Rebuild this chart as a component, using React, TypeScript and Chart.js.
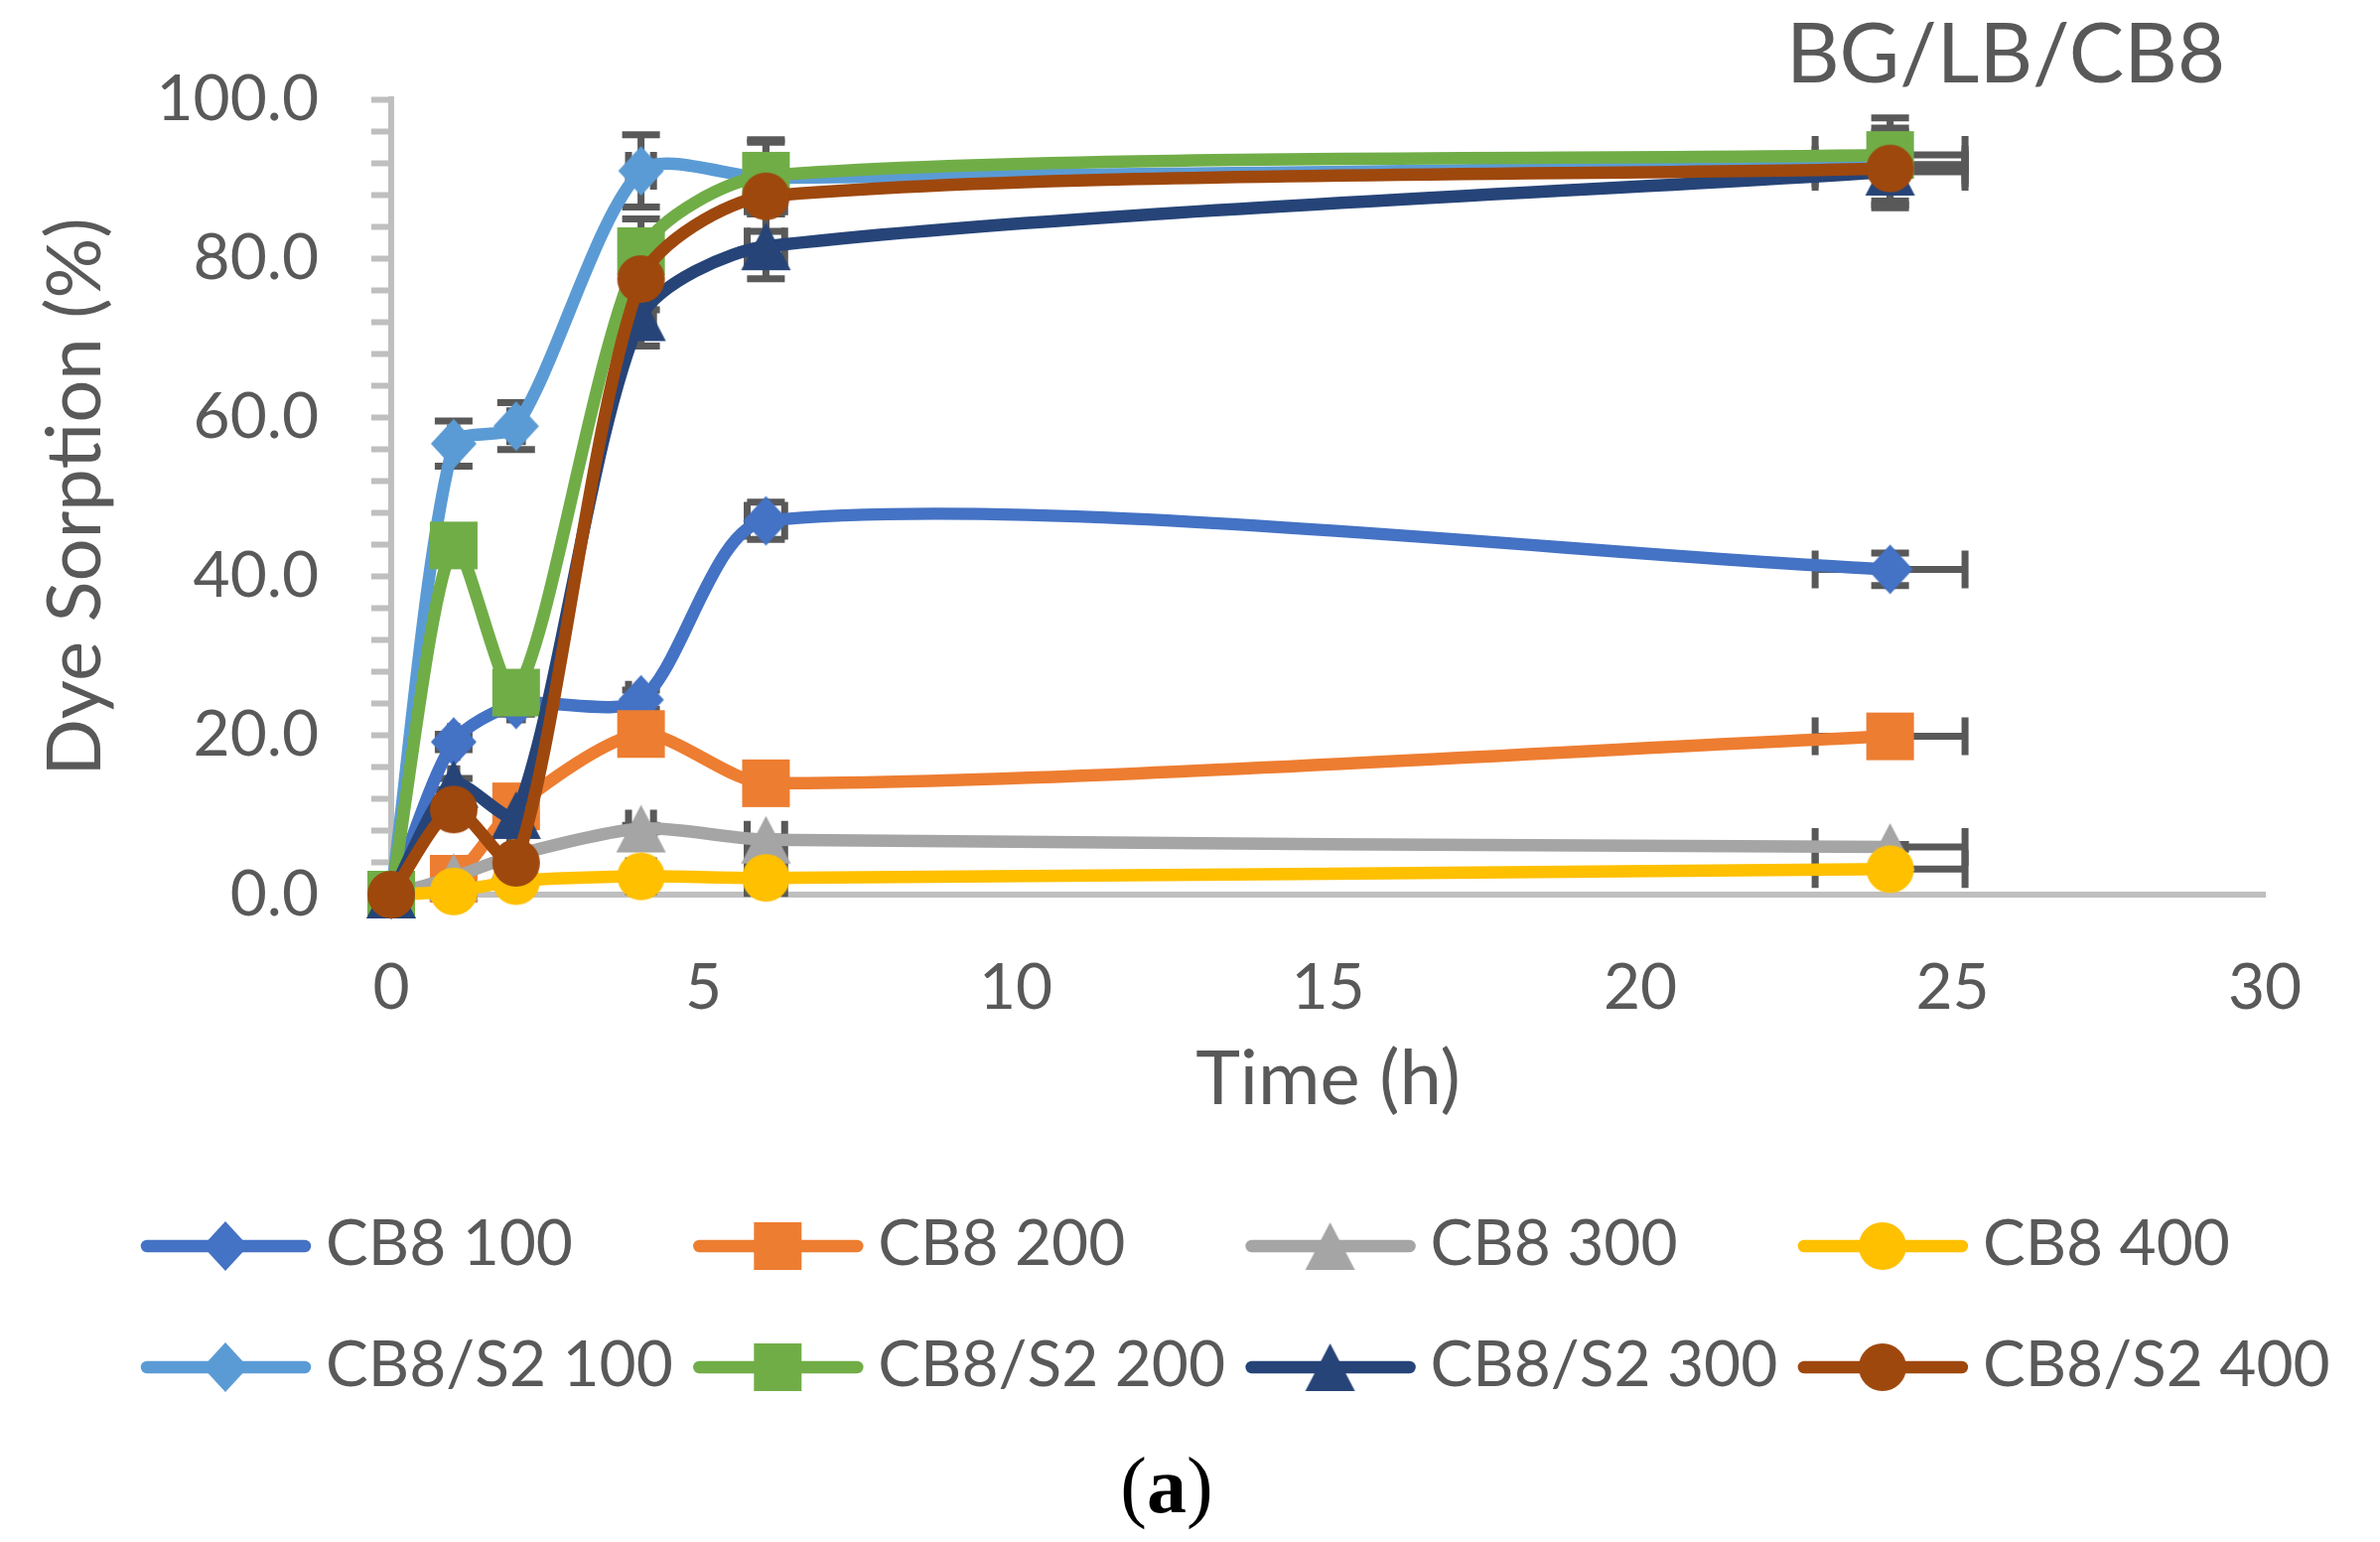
import { useEffect, useRef } from "react";
import { Chart, registerables } from "chart.js";

Chart.register(...registerables);

// sampling times (h)
const times = [0, 1, 2, 4, 6, 24];

const seriesNames = [
  "CB8 100",
  "CB8 200",
  "CB8 300",
  "CB8 400",
  "CB8/S2 100",
  "CB8/S2 200",
  "CB8/S2 300",
  "CB8/S2 400",
];

// dye sorption (%)
const cb8_100 = [0, 19.2, 23.9, 24.5, 47.0, 40.9];
const cb8_200 = [0, 2.0, 11.1, 20.2, 14.0, 19.9];
const cb8_300 = [0, 2.2, 5.0, 8.3, 6.9, 6.0];
const cb8_400 = [0, 0.4, 1.7, 2.3, 2.1, 3.2];
const cb8s2_100 = [0, 56.7, 58.9, 91.0, 90.1, 91.8];
const cb8s2_200 = [0, 43.9, 25.4, 80.9, 90.4, 93.0];
const cb8s2_300 = [0, 13.9, 10.0, 72.6, 81.5, 90.9];
const cb8s2_400 = [0, 10.7, 4.0, 77.4, 87.8, 91.3];

const seriesValues = [cb8_100, cb8_200, cb8_300, cb8_400, cb8s2_100, cb8s2_200, cb8s2_300, cb8s2_400];

const seriesColors = [
  "#4472C4",
  "#ED7D31",
  "#A5A5A5",
  "#FFC000",
  "#5B9BD5",
  "#70AD47",
  "#264478",
  "#9E480E",
];

const seriesMarkers = ["diamond", "square", "triangle", "circle", "diamond", "square", "triangle", "circle"];

// error bars are 5% of the value, both directions
const errFraction = 0.05;

const chartTitle = "BG/LB/CB8";
const xTitle = "Time (h)";
const yTitle = "Dye Sorption (%)";

const TEXT = "#595959";
const AXIS = "#BFBFBF";
const FONT = "Lato, 'Open Sans', sans-serif";

function makeMarker(shape: string, color: string) {
  const c = document.createElement("canvas");
  c.width = 52;
  c.height = 52;
  const g = c.getContext("2d")!;
  const m = 26;
  g.fillStyle = color;
  g.beginPath();
  if (shape === "circle") {
    g.arc(m, m, 24, 0, Math.PI * 2);
  } else if (shape === "square") {
    g.rect(m - 24, m - 24, 48, 48);
  } else if (shape === "diamond") {
    g.moveTo(m, m - 25);
    g.lineTo(m + 23, m);
    g.lineTo(m, m + 25);
    g.lineTo(m - 23, m);
    g.closePath();
  } else {
    g.moveTo(m, m - 24);
    g.lineTo(m + 25, m + 24);
    g.lineTo(m - 25, m + 24);
    g.closePath();
  }
  g.fill();
  return c;
}

const errorBarsPlugin = {
  id: "errorBars",
  beforeDatasetsDraw(chart: any) {
    const { ctx } = chart;
    const xs = chart.scales.x;
    const ys = chart.scales.y;
    const cap = 19;
    ctx.save();
    ctx.strokeStyle = TEXT;
    ctx.lineWidth = 7;
    chart.data.datasets.forEach((ds: any) => {
      ds.data.forEach((p: any) => {
        const px = xs.getPixelForValue(p.x);
        const py = ys.getPixelForValue(p.y);
        const ey = p.y * errFraction;
        const ex = p.x * errFraction;
        ctx.beginPath();
        if (ey > 0) {
          const y1 = ys.getPixelForValue(p.y + ey);
          const y2 = ys.getPixelForValue(p.y - ey);
          ctx.moveTo(px, y1);
          ctx.lineTo(px, y2);
          ctx.moveTo(px - cap, y1);
          ctx.lineTo(px + cap, y1);
          ctx.moveTo(px - cap, y2);
          ctx.lineTo(px + cap, y2);
        }
        if (ex > 0) {
          const x1 = xs.getPixelForValue(p.x - ex);
          const x2 = xs.getPixelForValue(p.x + ex);
          ctx.moveTo(x1, py);
          ctx.lineTo(x2, py);
          ctx.moveTo(x1, py - cap);
          ctx.lineTo(x1, py + cap);
          ctx.moveTo(x2, py - cap);
          ctx.lineTo(x2, py + cap);
        }
        ctx.stroke();
      });
    });
    ctx.restore();
  },
};

function makeDecorPlugin(markers: HTMLCanvasElement[]) {
  return {
    id: "decor",
    afterDraw(chart: any) {
      const { ctx } = chart;
      ctx.save();

      // title
      ctx.fillStyle = TEXT;
      ctx.font = `83px ${FONT}`;
      ctx.textAlign = "center";
      ctx.textBaseline = "alphabetic";
      ctx.fillText(chartTitle, 2020, 83);

      // legend: 2 rows x 4 columns
      ctx.font = `64px ${FONT}`;
      ctx.textAlign = "left";
      ctx.textBaseline = "middle";
      seriesNames.forEach((name, i) => {
        const col = i % 4;
        const row = Math.floor(i / 4);
        const x0 = 142 + col * 556.3;
        const y0 = 1255 + row * 122;
        ctx.strokeStyle = seriesColors[i];
        ctx.lineWidth = 12.5;
        ctx.lineCap = "round";
        ctx.beginPath();
        ctx.moveTo(x0 + 6, y0);
        ctx.lineTo(x0 + 165, y0);
        ctx.stroke();
        const mk = markers[i];
        ctx.drawImage(mk, x0 + 85 - mk.width / 2, y0 - mk.height / 2);
        ctx.fillStyle = TEXT;
        ctx.fillText(name, x0 + 186, y0 - 2);
      });

      // caption
      ctx.fillStyle = "#000000";
      ctx.textBaseline = "alphabetic";
      ctx.textAlign = "left";
      const normal = "normal 400 80px 'Liberation Serif', 'DejaVu Serif', serif";
      const bold = "normal 700 80px 'Liberation Serif', 'DejaVu Serif', serif";
      ctx.font = normal;
      const wOpen = ctx.measureText("(").width;
      const wClose = ctx.measureText(")").width;
      ctx.font = bold;
      const wA = ctx.measureText("a").width;
      let cx = 1175 - (wOpen + wA + wClose) / 2;
      ctx.font = normal;
      ctx.fillText("(", cx, 1523);
      cx += wOpen;
      ctx.font = bold;
      ctx.fillText("a", cx, 1523);
      cx += wA;
      ctx.font = normal;
      ctx.fillText(")", cx, 1523);

      ctx.restore();
    },
  };
}

export default function App() {
  const canvasRef = useRef<HTMLCanvasElement>(null);

  useEffect(() => {
    if (!canvasRef.current) return;
    const ctx = canvasRef.current.getContext("2d");
    if (!ctx) return;

    const markers = seriesMarkers.map((m, i) => makeMarker(m, seriesColors[i]));

    const datasets = seriesNames.map((name, i) => ({
      label: name,
      data: times.map((t, j) => ({ x: t, y: seriesValues[i][j] })),
      borderColor: seriesColors[i],
      backgroundColor: seriesColors[i],
      borderWidth: 12.5,
      borderCapStyle: "round" as const,
      borderJoinStyle: "round" as const,
      tension: 0.26,
      pointStyle: markers[i],
      pointRadius: 24,
      pointBorderWidth: 0,
      clip: false as const,
      order: seriesNames.length - 1 - i,
    }));

    const chart = new Chart(ctx, {
      type: "line",
      data: { datasets },
      plugins: [errorBarsPlugin, makeDecorPlugin(markers)],
      options: {
        animation: false,
        responsive: true,
        maintainAspectRatio: false,
        devicePixelRatio: 1,
        events: [],
        layout: { padding: { top: 100, right: 116, bottom: 402, left: 0 } },
        plugins: {
          legend: { display: false },
          tooltip: { enabled: false },
          title: { display: false },
        },
        scales: {
          x: {
            type: "linear",
            min: 0,
            max: 30,
            ticks: {
              stepSize: 5,
              color: TEXT,
              font: { family: FONT, size: 64 },
              padding: 56,
              maxRotation: 0,
              autoSkip: false,
            },
            grid: { display: true, drawOnChartArea: false, drawTicks: false, color: AXIS },
            border: { display: true, color: AXIS, width: 6 },
            title: {
              display: true,
              text: xTitle,
              color: TEXT,
              font: { family: FONT, size: 76 },
              padding: { top: 0, bottom: 18 },
            },
            afterFit: (scale: any) => {
              scale.height = 250;
            },
          },
          y: {
            type: "linear",
            min: 0,
            max: 100,
            ticks: {
              stepSize: 4,
              color: TEXT,
              font: { family: FONT, size: 64 },
              padding: 53,
              autoSkip: false,
              callback: (v: any) => (Number(v) % 20 === 0 ? Number(v).toFixed(1) : ""),
            },
            grid: {
              display: true,
              drawOnChartArea: false,
              drawTicks: true,
              tickLength: 20,
              tickWidth: 6,
              tickColor: AXIS,
              color: AXIS,
            },
            border: { display: true, color: AXIS, width: 6 },
            title: {
              display: true,
              text: yTitle,
              color: TEXT,
              font: { family: FONT, size: 76 },
              padding: { top: 31, bottom: 0 },
            },
            afterFit: (scale: any) => {
              scale.width = 394;
            },
          },
        },
      },
    });

    return () => chart.destroy();
  }, []);

  return (
    <div
      style={{
        position: "fixed",
        left: 0,
        top: 0,
        width: 2397,
        height: 1553,
        background: "#ffffff",
      }}
    >
      <canvas ref={canvasRef} />
    </div>
  );
}
